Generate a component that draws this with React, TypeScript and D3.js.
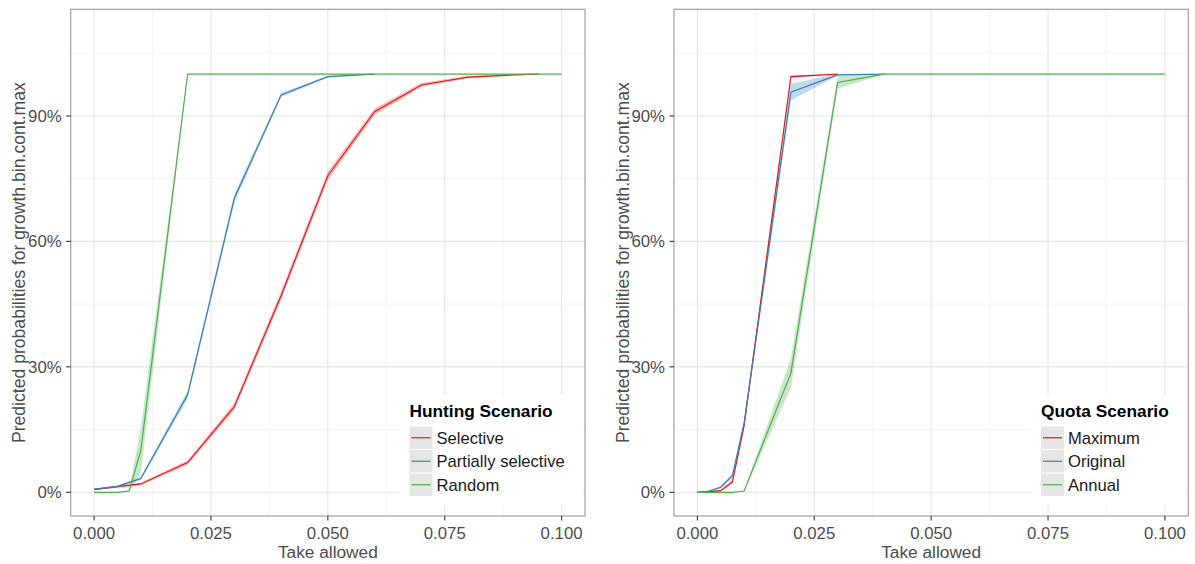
import React from "react";
import * as d3 from "d3";

// ---- Data ----
const xTicks = [0, 0.025, 0.05, 0.075, 0.1];
const xMinor = [0.0125, 0.0375, 0.0625, 0.0875];
const yTicks = [0, 0.3, 0.6, 0.9];
const yMinor = [0.15, 0.45, 0.75, 1.05];

// Left panel: Hunting Scenario
const huntSelectiveX = [0, 0.01, 0.02, 0.03, 0.04, 0.05, 0.06, 0.07, 0.08, 0.09, 0.095];
const huntSelectiveY = [0.007, 0.02, 0.071, 0.205, 0.47, 0.757, 0.91, 0.974, 0.993, 0.998, 1.0];
const huntSelectiveCI = [0.002, 0.003, 0.005, 0.008, 0.01, 0.01, 0.008, 0.005, 0.003, 0.001, 0];

const huntPartialX = [0, 0.005, 0.01, 0.02, 0.03, 0.04, 0.05, 0.06];
const huntPartialY = [0.007, 0.014, 0.033, 0.233, 0.703, 0.95, 0.994, 1.0];
const huntPartialCI = [0.002, 0.002, 0.004, 0.01, 0.01, 0.005, 0.002, 0];

const huntRandomX = [0, 0.005, 0.0075, 0.01, 0.02, 0.1];
const huntRandomY = [0, 0, 0.003, 0.1, 1.0, 1.0];
const huntRandomCI = [0, 0, 0.002, 0.055, 0, 0];

// Right panel: Quota Scenario
const quotaMaxX = [0, 0.0025, 0.005, 0.0075, 0.01, 0.02, 0.03];
const quotaMaxY = [0, 0.001, 0.004, 0.025, 0.16, 0.994, 1.0];
const quotaMaxCI = [0, 0.001, 0.002, 0.004, 0.008, 0.003, 0];

const quotaOrigX = [0, 0.0025, 0.005, 0.0075, 0.01, 0.02, 0.03, 0.04];
const quotaOrigY = [0, 0.003, 0.012, 0.04, 0.165, 0.957, 0.998, 1.0];
const quotaOrigCI = [0, 0.002, 0.003, 0.006, 0.01, 0.02, 0.002, 0];

const quotaAnnualX = [0, 0.005, 0.0075, 0.01, 0.02, 0.03, 0.04, 0.1];
const quotaAnnualY = [0, 0, 0, 0.003, 0.285, 0.98, 1.0, 1.0];
const quotaAnnualCI = [0, 0, 0, 0.001, 0.035, 0.015, 0, 0];

const huntLabels = ["Selective", "Partially selective", "Random"];
const quotaLabels = ["Maximum", "Original", "Annual"];
const colors = ["#E41A1C", "#377EB8", "#4DAF4A"];

type Series = { x: number[]; y: number[]; ci: number[] };

const huntSeries: Series[] = [
  { x: huntSelectiveX, y: huntSelectiveY, ci: huntSelectiveCI },
  { x: huntPartialX, y: huntPartialY, ci: huntPartialCI },
  { x: huntRandomX, y: huntRandomY, ci: huntRandomCI },
];
const quotaSeries: Series[] = [
  { x: quotaMaxX, y: quotaMaxY, ci: quotaMaxCI },
  { x: quotaOrigX, y: quotaOrigY, ci: quotaOrigCI },
  { x: quotaAnnualX, y: quotaAnnualY, ci: quotaAnnualCI },
];

const FONT = "'Liberation Sans', Arial, sans-serif";
const PANEL_TOP = 9.3;
const PANEL_BOTTOM = 516;
const PANEL_W = 514.3;

function Panel({
  left,
  series,
  title,
  labels,
  legendX,
  legendW,
}: {
  left: number;
  series: Series[];
  title: string;
  labels: string[];
  legendX: number;
  legendW: number;
}) {
  const x = d3.scaleLinear().domain([-0.005, 0.105]).range([left, left + PANEL_W]);
  const y = d3.scaleLinear().domain([-0.0567, 1.155]).range([PANEL_BOTTOM, PANEL_TOP]);
  const mk = (s: Series) => {
    const pts = s.x.map((xv, i) => ({
      x: xv,
      y: s.y[i],
      lo: Math.max(0, s.y[i] - s.ci[i]),
      hi: Math.min(1, s.y[i] + s.ci[i]),
    }));
    const l = d3
      .line<any>()
      .x((d) => x(d.x))
      .y((d) => y(d.y))(pts);
    const a = d3
      .area<any>()
      .x((d) => x(d.x))
      .y0((d) => y(d.lo))
      .y1((d) => y(d.hi))(pts);
    return { l, a };
  };
  const paths = series.map(mk);
  const cx = left + PANEL_W / 2;
  const legendTop = 395;
  const keyTop = 426.5;
  const keyStep = 23.5;
  return (
    <g>
      <rect x={left} y={PANEL_TOP} width={PANEL_W} height={PANEL_BOTTOM - PANEL_TOP} fill="#fff" />
      {yMinor.map((t) => (
        <line key={"ym" + t} x1={left} x2={left + PANEL_W} y1={y(t)} y2={y(t)} stroke="#F4F4F4" strokeWidth={1} />
      ))}
      {xMinor.map((t) => (
        <line key={"xm" + t} x1={x(t)} x2={x(t)} y1={PANEL_TOP} y2={PANEL_BOTTOM} stroke="#F4F4F4" strokeWidth={1} />
      ))}
      {yTicks.map((t) => (
        <line key={"yg" + t} x1={left} x2={left + PANEL_W} y1={y(t)} y2={y(t)} stroke="#E6E6E6" strokeWidth={1.1} />
      ))}
      {xTicks.map((t) => (
        <line key={"xg" + t} x1={x(t)} x2={x(t)} y1={PANEL_TOP} y2={PANEL_BOTTOM} stroke="#E6E6E6" strokeWidth={1.1} />
      ))}
      {paths.map((p, i) => (
        <path key={"a" + i} d={p.a || ""} fill={colors[i]} fillOpacity={0.3} stroke="none" />
      ))}
      {paths.map((p, i) => (
        <path key={"l" + i} d={p.l || ""} fill="none" stroke={colors[i]} strokeWidth={1.2} />
      ))}
      {/* legend */}
      <rect x={legendX} y={legendTop} width={legendW} height={110} fill="#fff" />
      <text x={legendX + 9.5} y={417} fontFamily={FONT} fontSize={17.3} fontWeight="bold" fill="#000">
        {title}
      </text>
      {labels.map((lab, i) => {
        const ky = keyTop + i * keyStep;
        return (
          <g key={lab}>
            <rect x={legendX + 9.5} y={ky} width={23} height={22.5} fill="#E5E5E5" />
            <line
              x1={legendX + 11.5}
              x2={legendX + 30.5}
              y1={ky + 11.25}
              y2={ky + 11.25}
              stroke={colors[i]}
              strokeWidth={1.2}
            />
            <text x={legendX + 36.5} y={ky + 17} fontFamily={FONT} fontSize={16.6} fill="#1a1a1a">
              {lab}
            </text>
          </g>
        );
      })}
      <rect
        x={left}
        y={PANEL_TOP}
        width={PANEL_W}
        height={PANEL_BOTTOM - PANEL_TOP}
        fill="none"
        stroke="#A0A0A0"
        strokeWidth={1.2}
      />
      {/* axes ticks */}
      {yTicks.map((t) => (
        <g key={"yt" + t}>
          <line x1={left - 4.5} x2={left} y1={y(t)} y2={y(t)} stroke="#333" strokeWidth={1.1} />
          <text x={left - 9} y={y(t) + 6} textAnchor="end" fontFamily={FONT} fontSize={16.8} fill="#4D4D4D">
            {d3.format(".0%")(t)}
          </text>
        </g>
      ))}
      {xTicks.map((t) => (
        <g key={"xt" + t}>
          <line x1={x(t)} x2={x(t)} y1={PANEL_BOTTOM} y2={PANEL_BOTTOM + 4.5} stroke="#333" strokeWidth={1.1} />
          <text x={x(t)} y={539} textAnchor="middle" fontFamily={FONT} fontSize={16.8} fill="#4D4D4D">
            {d3.format(".3f")(t)}
          </text>
        </g>
      ))}
      <text x={cx} y={558} textAnchor="middle" fontFamily={FONT} fontSize={17.3} fill="#4D4D4D">
        Take allowed
      </text>
      <text
        transform={`translate(${left - 45.5},${(PANEL_TOP + PANEL_BOTTOM) / 2}) rotate(-90)`}
        textAnchor="middle"
        fontFamily={FONT}
        fontSize={17.6}
        fill="#4D4D4D"
      >
        Predicted probabilities for growth.bin.cont.max
      </text>
    </g>
  );
}

export default function App() {
  return (
    <svg width={1195} height={564} style={{ position: "absolute", left: 0, top: 0, background: "#fff" }}>
      <rect width={1195} height={564} fill="#fff" />
      <Panel left={70.7} series={huntSeries} title="Hunting Scenario" labels={huntLabels} legendX={400} legendW={183} />
      <Panel left={674} series={quotaSeries} title="Quota Scenario" labels={quotaLabels} legendX={1031.5} legendW={154} />
    </svg>
  );
}
